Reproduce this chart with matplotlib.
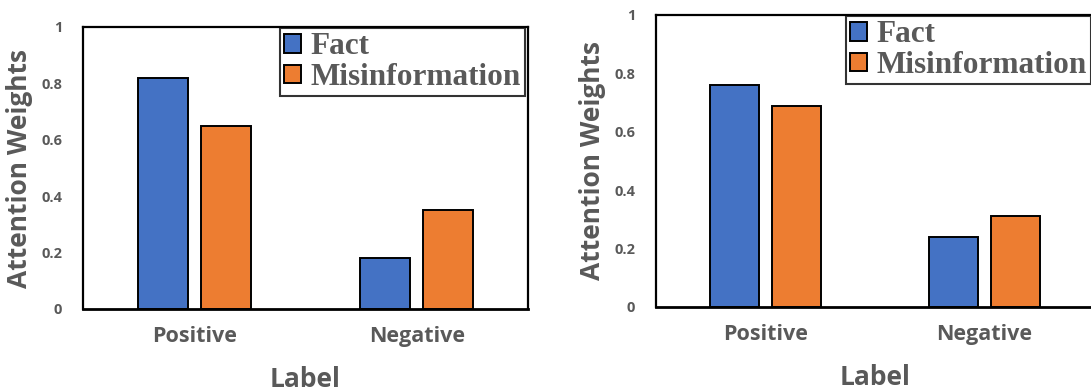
import numpy as np
import matplotlib.pyplot as plt

# ── Data ───────────────────────────────────────────────────────────────────
categories = ["Positive", "Negative"]
series_names = ["Fact", "Misinformation"]
left_fact = [0.82, 0.18]
left_misinfo = [0.65, 0.35]
right_fact = [0.76, 0.24]
right_misinfo = [0.69, 0.31]
y_ticks = [0, 0.2, 0.4, 0.6, 0.8, 1]
y_tick_labels = ["0", "0.2", "0.4", "0.6", "0.8", "1"]

BLUE = "#4472C4"
ORANGE = "#ED7D31"
GRAY = "#595959"
SANS = ["Open Sans", "DejaVu Sans"]
SERIF = ["Liberation Serif", "DejaVu Serif"]

W, H = 1091, 392
fig = plt.figure(figsize=(W / 100, H / 100), dpi=100)


def panel(rect, fact, misinfo):
    ax = fig.add_axes(rect)
    x = np.arange(len(categories))
    bw, off = 0.225, 0.141
    ax.bar(x - off, fact, bw, color=BLUE, edgecolor="black", linewidth=1.4,
           label=series_names[0], zorder=2)
    ax.bar(x + off, misinfo, bw, color=ORANGE, edgecolor="black", linewidth=1.4,
           label=series_names[1], zorder=2)
    ax.set_xlim(-0.5, 1.5)
    ax.set_ylim(0, 1)
    ax.set_yticks(y_ticks)
    ax.set_yticklabels(y_tick_labels, family=SANS, fontweight="bold",
                       fontsize=10.5, color=GRAY)
    ax.set_xticks(x)
    ax.set_xticklabels(categories, family=SANS, fontweight="bold",
                       fontsize=15.5, color=GRAY)
    ax.tick_params(axis="y", length=0, pad=15)
    ax.tick_params(axis="x", length=0, pad=12)
    for s in ax.spines.values():
        s.set_linewidth(1.6)
        s.set_color("black")
    ax.spines["bottom"].set_linewidth(2.0)
    ax.set_ylabel("Attention Weights", family=SANS, fontweight="bold",
                  fontsize=19, color=GRAY, labelpad=6)
    ax.set_xlabel("Label", family=SANS, fontweight="bold",
                  fontsize=19, color=GRAY, labelpad=14)
    leg = ax.legend(loc="upper right", bbox_to_anchor=(0.993, 0.995),
                    prop={"family": SERIF, "weight": "bold", "size": 22.5},
                    labelcolor=GRAY, frameon=True, fancybox=False,
                    edgecolor="black", borderpad=0.12, labelspacing=0.06,
                    handlelength=0.55, handleheight=0.55, handletextpad=0.3,
                    borderaxespad=0)
    leg.get_frame().set_linewidth(1.5)
    return ax


panel([83 / W, (H - 309) / H, 445 / W, 282 / H], left_fact, left_misinfo)
panel([656 / W, (H - 307) / H, 438 / W, 292 / H], right_fact, right_misinfo)

fig.savefig("out.png", dpi=100)
plt.close(fig)
